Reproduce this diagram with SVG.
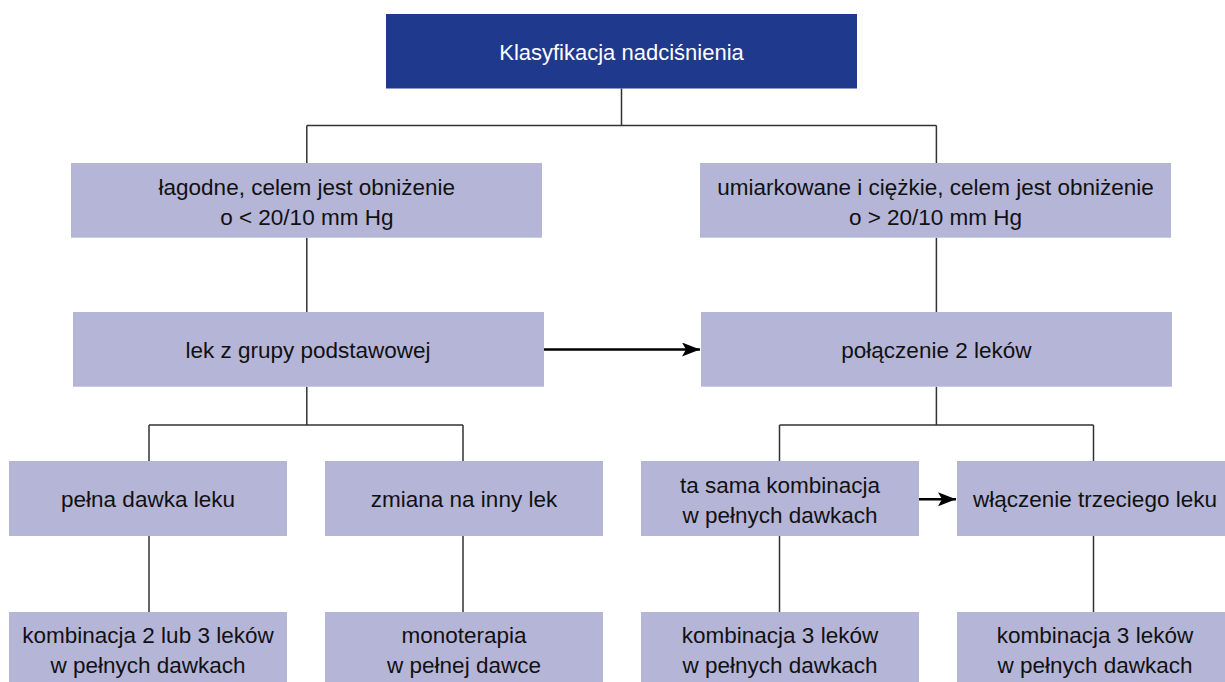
<svg xmlns="http://www.w3.org/2000/svg" width="1225" height="682" viewBox="0 0 1225 682">
<style>
.box{fill:#b5b5d8}
.title{fill:#1f398c}
.t{font-family:"Liberation Sans",Arial,sans-serif;font-size:22.5px;fill:#111;text-anchor:middle}
.tw{font-family:"Liberation Sans",Arial,sans-serif;font-size:22px;fill:#fff;text-anchor:middle}
.c{fill:none;stroke:#333;stroke-width:1.5}
.a{fill:none;stroke:#000;stroke-width:2.6}
</style>
<defs>
<marker id="ah" viewBox="0 0 18 14" refX="18" refY="7" markerWidth="18" markerHeight="14" markerUnits="userSpaceOnUse" orient="auto">
<path d="M0,0 L18,7 L0,14 L4,7 Z" fill="#000"/>
</marker>
</defs>
<rect width="1225" height="682" fill="#fff"/>
<g id="connectors">
<path class="c" d="M621.5,88.5 V125.5 M306.8,125.5 H936.4 M306.8,125.5 V163 M936.4,125.5 V163"/>
<path class="c" d="M306.8,237.7 V312 M936.4,237.7 V312"/>
<path class="c" d="M306.8,386.7 V425 M149,425 H463 M149,425 V461 M463,425 V461"/>
<path class="c" d="M936.4,386.7 V425 M779.5,425 H1093.5 M779.5,425 V461 M1093.5,425 V461"/>
<path class="c" d="M149,536 V612 M463,536 V612 M779.5,536 V612 M1093.5,536 V612"/>
<path class="a" d="M544,349.5 H700" marker-end="url(#ah)"/>
<path class="a" d="M919,499.3 H956" marker-end="url(#ah)"/>
</g>
<g id="n-root">
<rect class="title" x="386" y="14" width="471" height="74.5"/>
<text class="tw" x="621.5" y="59.5">Klasyfikacja nadciśnienia</text>
</g>
<g id="n-lagodne">
<rect class="box" x="71" y="163" width="471" height="74.7"/>
<text class="t" x="306.8" y="195">łagodne, celem jest obniżenie</text>
<text class="t" x="306.8" y="224.5">o &lt; 20/10 mm Hg</text>
</g>
<g id="n-umiarkowane">
<rect class="box" x="700" y="163" width="471" height="74.7"/>
<text class="t" x="935.5" y="195">umiarkowane i ciężkie, celem jest obniżenie</text>
<text class="t" x="935.5" y="224.5">o &gt; 20/10 mm Hg</text>
</g>
<g id="n-lek">
<rect class="box" x="73" y="312" width="471" height="74.7"/>
<text class="t" x="308" y="358">lek z grupy podstawowej</text>
</g>
<g id="n-polaczenie">
<rect class="box" x="701" y="312" width="471" height="74.7"/>
<text class="t" x="936.4" y="358">połączenie 2 leków</text>
</g>
<g id="n-pelna">
<rect class="box" x="9" y="461" width="278" height="75"/>
<text class="t" x="148" y="507">pełna dawka leku</text>
</g>
<g id="n-zmiana">
<rect class="box" x="325" y="461" width="278" height="75"/>
<text class="t" x="464" y="507">zmiana na inny lek</text>
</g>
<g id="n-tasama">
<rect class="box" x="641" y="461" width="278" height="75"/>
<text class="t" x="780" y="493">ta sama kombinacja</text>
<text class="t" x="780" y="522.5">w pełnych dawkach</text>
</g>
<g id="n-wlaczenie">
<rect class="box" x="957" y="461" width="278" height="75"/>
<text class="t" x="1095" y="507">włączenie trzeciego leku</text>
</g>
<g id="n-komb23">
<rect class="box" x="9" y="612" width="278" height="80"/>
<text class="t" x="148" y="643">kombinacja 2 lub 3 leków</text>
<text class="t" x="148" y="672.5">w pełnych dawkach</text>
</g>
<g id="n-mono">
<rect class="box" x="325" y="612" width="278" height="80"/>
<text class="t" x="464" y="643">monoterapia</text>
<text class="t" x="464" y="672.5">w pełnej dawce</text>
</g>
<g id="n-komb3a">
<rect class="box" x="641" y="612" width="278" height="80"/>
<text class="t" x="780" y="643">kombinacja 3 leków</text>
<text class="t" x="780" y="672.5">w pełnych dawkach</text>
</g>
<g id="n-komb3b">
<rect class="box" x="957" y="612" width="278" height="80"/>
<text class="t" x="1095" y="643">kombinacja 3 leków</text>
<text class="t" x="1095" y="672.5">w pełnych dawkach</text>
</g>
</svg>
